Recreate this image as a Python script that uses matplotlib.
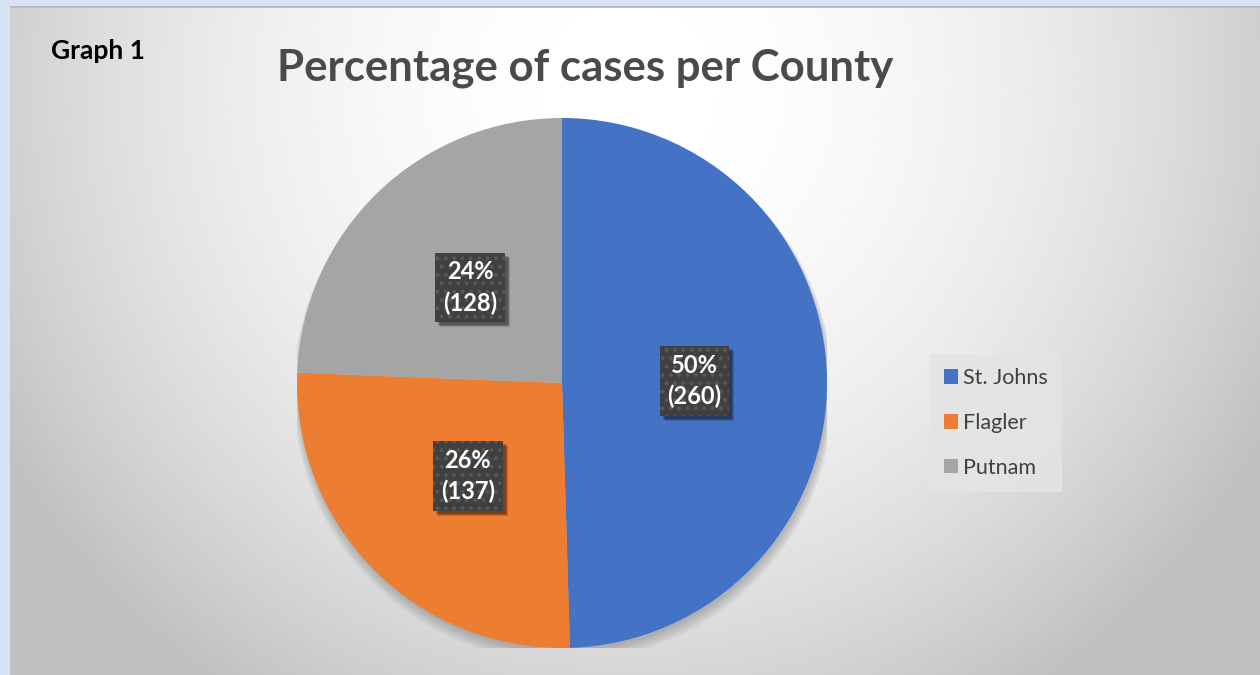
import numpy as np
import matplotlib.pyplot as plt
from matplotlib.patches import Rectangle, Circle
from matplotlib.transforms import IdentityTransform

plt.rcParams['font.family'] = ['Lato', 'DejaVu Sans']
plt.rcParams['hatch.linewidth'] = 1.6

# Data
counties = ["St. Johns", "Flagler", "Putnam"]
cases = [260, 137, 128]
colors = ["#4472C4", "#ED7D31", "#A5A5A5"]

W, H = 1260, 675
fig = plt.figure(figsize=(W / 100, H / 100), dpi=100)
fig.patch.set_facecolor("#dae3f3")

# Background radial gradient
bg = fig.add_axes([10 / W, 0, 1 - 10 / W, 1 - 6 / H])
bg.axis("off")
xx, yy = np.meshgrid(np.linspace(10, W, 400), np.linspace(6, H, 300))
d = np.sqrt(((xx - 630) / 720) ** 2 + ((yy - 90) / 720) ** 2)
shade = 255 - 62 * np.clip(d, 0, 1) ** 2
bg.imshow(shade, cmap="gray", vmin=0, vmax=255, aspect="auto",
          extent=[0, 1, 0, 1], origin="upper")
bg.add_patch(Rectangle((0, 0.997), 1, 0.003, transform=bg.transAxes,
                       color="#b8bcc4", lw=0))

# Pie
ax = fig.add_axes([(562 - 265) / W, 27 / H, 530 / W, 530 / H])
# soft shadow under the pie
for k in range(6):
    ax.add_patch(Circle((0.005, -0.012 - 0.004 * k), 1.0 + 0.004 * k,
                        fc="black", alpha=0.035, lw=0, zorder=0))
total = sum(cases)


def fmt(pct):
    val = int(round(pct * total / 100))
    return f"{pct:.0f}%\n({val})"


wedges, texts, autotexts = ax.pie(cases, colors=colors, startangle=90,
                                  counterclock=False, autopct=fmt,
                                  pctdistance=0.5, radius=1,
                                  wedgeprops=dict(linewidth=0, zorder=1),
                                  textprops=dict(color="white", fontsize=17,
                                                 fontweight="bold",
                                                 linespacing=1.4))
ax.set_xlim(-1, 1)
ax.set_ylim(-1, 1)
ax.set_aspect("equal")
for t in autotexts:
    t.set_zorder(5)
    t.set_bbox(dict(boxstyle="square,pad=0.33", fc="#404040", ec="#575757",
                    lw=0, hatch=".."))

# drop shadows behind the label boxes
fig.canvas.draw()
for t in autotexts:
    bb = t.get_bbox_patch().get_window_extent()
    for off, a in [(5, 0.16), (4, 0.2), (3, 0.22)]:
        ax.add_patch(Rectangle((bb.x0 + off, bb.y0 - off), bb.width,
                               bb.height, transform=IdentityTransform(),
                               fc="black", ec="none", alpha=a, zorder=3,
                               clip_on=False))

# Titles
fig.text(585 / W, 1 - 80 / H, "Percentage of cases per County", ha="center",
         va="baseline", fontsize=31.5, fontweight="bold", color="#4a4a4a")
fig.text(51 / W, 1 - 59 / H, "Graph 1", ha="left", va="baseline",
         fontsize=19, fontweight="bold", color="black")

# Legend
leg = fig.legend(wedges, counties, loc="center left",
                 bbox_to_anchor=(930 / W, 1 - 423 / H),
                 frameon=True, fontsize=15.5, labelcolor="#404040",
                 handlelength=0.65, handleheight=0.65, handletextpad=0.25,
                 labelspacing=1.15, borderpad=0.65, borderaxespad=0,
                 fancybox=False)
leg.get_frame().set_facecolor("#e4e4e4")
leg.get_frame().set_edgecolor("none")
leg.get_frame().set_alpha(0.9)

fig.savefig("out.png", dpi=100)
